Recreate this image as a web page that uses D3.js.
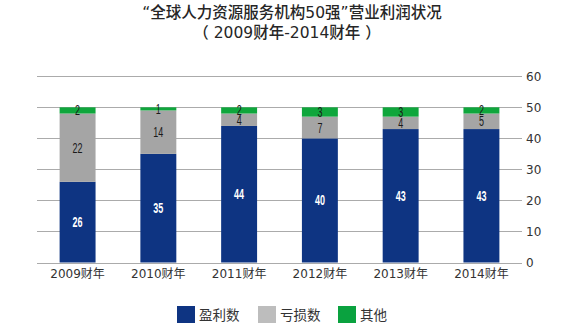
<!DOCTYPE html>
<html>
<head>
<meta charset="utf-8">
<script src="https://cdn.jsdelivr.net/npm/d3@7/dist/d3.min.js"></script>
<style>
  html, body { margin: 0; padding: 0; background: #fff; }
  svg { display: block; }
</style>
</head>
<body>
<svg id="chart" width="569" height="336"></svg>
<script>
// Fiscal years and counts of companies in each group
const years = ["2009财年", "2010财年", "2011财年", "2012财年", "2013财年", "2014财年"];
const profit = [26, 35, 44, 40, 43, 43];
const loss = [22, 14, 4, 7, 4, 5];
const other = [2, 1, 2, 3, 3, 2];
const seriesNames = ["盈利数", "亏损数", "其他"];
const yTicks = [0, 10, 20, 30, 40, 50, 60];

const colors = ["#0e3482", "#a5a5a5", "#0fa63c"];
const legendColors = ["#0e3482", "#bdbdbd", "#0aa23f"];
const labelColors = ["#ffffff", "#1a1a1a", "#1a1a1a"];

const svg = d3.select("#chart");
const cjk = "'Noto Sans CJK SC', 'Noto Sans', sans-serif";
const mixed = "'DejaVu Sans', 'Noto Sans CJK SC', sans-serif";
const latin = "'Liberation Sans', Arial, sans-serif";

const plotLeft = 37, plotRight = 522, plotTop = 76.3, plotBottom = 262.5;

const x = d3.scaleBand().domain(years).range([plotLeft, plotRight]).paddingInner(0.555).paddingOuter(0.28);
const y = d3.scaleLinear().domain([0, 60]).range([plotBottom, plotTop]);

// Title
svg.append("text").attr("x", 292).attr("y", 18).attr("text-anchor", "middle")
  .attr("font-family", mixed).attr("font-size", 15.5).attr("font-weight", 500).attr("fill", "#262626")
  .text("“全球人力资源服务机构50强”营业利润状况");
svg.append("text").attr("x", 287).attr("y", 38).attr("text-anchor", "middle")
  .attr("font-family", mixed).attr("font-size", 15.5).attr("font-weight", 500).attr("fill", "#262626")
  .text("（ 2009财年-2014财年 ）");

// Gridlines
svg.append("g").selectAll("line").data(yTicks).join("line")
  .attr("x1", plotLeft).attr("x2", plotRight)
  .attr("y1", d => Math.round(y(d)) + 0.5).attr("y2", d => Math.round(y(d)) + 0.5)
  .attr("stroke", "#ababab").attr("stroke-width", 1);

// Right axis labels
const yAxis = d3.axisRight(y).tickValues(yTicks).tickSize(0).tickPadding(0);
const ya = svg.append("g").attr("transform", `translate(${plotRight + 4},0)`).call(yAxis);
ya.select(".domain").remove();
ya.selectAll("text").attr("font-family", mixed)
  .attr("font-size", 12).attr("fill", "#333");

// Stacked bars
const table = years.map((yr, i) => ({ year: yr, 盈利数: profit[i], 亏损数: loss[i], 其他: other[i] }));
const stack = d3.stack().keys(seriesNames)(table);

const layers = svg.append("g").selectAll("g").data(stack).join("g")
  .attr("fill", (d, i) => colors[i]);
layers.selectAll("rect").data(d => d).join("rect")
  .attr("x", d => x(d.data.year))
  .attr("width", x.bandwidth())
  .attr("y", d => y(d[1]))
  .attr("height", d => y(d[0]) - y(d[1]));

// Value labels centered on each segment, in a narrow condensed style
const labels = svg.append("g").selectAll("g").data(stack).join("g");
labels.each(function (layer, li) {
  d3.select(this).selectAll("text").data(layer).join("text")
    .attr("transform", d => `translate(${x(d.data.year) + x.bandwidth() / 2},${(y(d[0]) + y(d[1])) / 2 + 5}) scale(0.62,1)`)
    .attr("text-anchor", "middle")
    .attr("font-family", latin).attr("font-size", 14.5)
    .attr("font-weight", li === 0 ? "bold" : "normal")
    .attr("fill", labelColors[li])
    .text(d => d[1] - d[0]);
});

// Category labels
const xAxis = d3.axisBottom(x).tickSize(0).tickPadding(0);
const xa = svg.append("g").attr("transform", `translate(0,${plotBottom + 15})`).call(xAxis);
xa.select(".domain").remove();
xa.selectAll("text").attr("font-family", mixed).attr("font-size", 12).attr("fill", "#333")
  .attr("dy", "0");

// Legend
const legendX = [177, 258, 338];
const lg = svg.append("g").selectAll("g").data(seriesNames).join("g")
  .attr("transform", (d, i) => `translate(${legendX[i]},306)`);
lg.append("rect").attr("width", 18).attr("height", 17).attr("fill", (d, i) => legendColors[i]);
lg.append("text").attr("x", 22).attr("y", 14).attr("font-family", cjk).attr("font-size", 13.5)
  .attr("fill", "#333").text(d => d);
</script>
</body>
</html>
